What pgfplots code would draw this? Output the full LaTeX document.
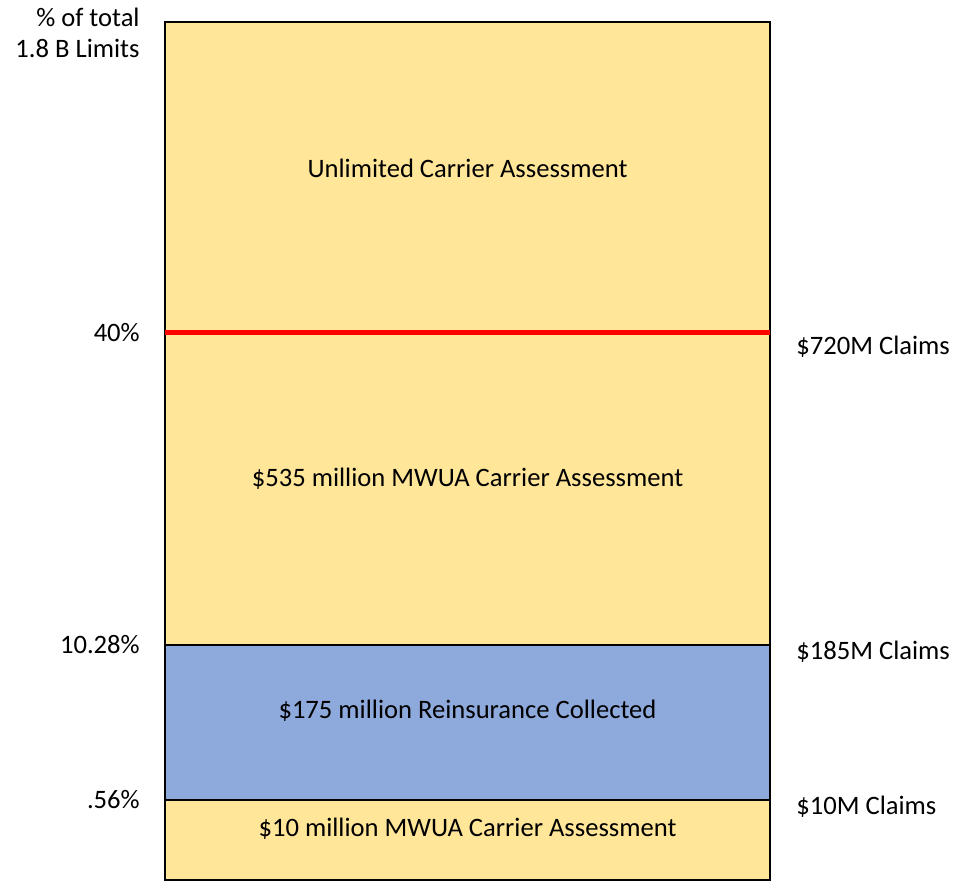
\documentclass[border=0pt]{standalone}
\usepackage{pgfplots}
\pgfplotsset{compat=1.18}
\usepackage{fontspec}
\setmainfont{Carlito}
\definecolor{gold}{HTML}{FFE699}
\definecolor{lblue}{HTML}{8EA9DB}
\begin{document}
\fontsize{13.3}{15.5}\selectfont
\begin{tikzpicture}
\pgfplotsset{base/.style={
  width=302.5pt, height=429pt, scale only axis,
  xmin=-0.5, xmax=0.5, ymin=0, ymax=858,
  axis line style={draw=none},
  xtick=\empty, major tick length=0pt,
  clip=false}}
\begin{axis}[base,
  ybar stacked, bar width=302.5pt,
  ytick={80,235,547},
  yticklabels={.56\%,10.28\%,40\%},
  yticklabel style={font=\fontsize{13.3}{15.5}\selectfont, xshift=-8pt},
  /pgf/number format/assume math mode=true,
]
\addplot[fill=gold, draw=black, line width=1.45pt] coordinates {(0,80)};
\addplot[fill=lblue, draw=black, line width=1.45pt] coordinates {(0,155)};
\addplot[fill=gold, draw=black, line width=1.45pt] coordinates {(0,312)};
\addplot[fill=gold, draw=black, line width=1.45pt] coordinates {(0,311)};
\end{axis}
\begin{axis}[base, ytick=\empty]
\addplot[red, line width=2.5pt, sharp plot] coordinates {(-0.5,547) (0.5,547)};
\node at (axis cs:0,712) {Unlimited Carrier Assessment};
\node at (axis cs:0,401) {\$535 million MWUA Carrier Assessment};
\node at (axis cs:0,169) {\$175 million Reinsurance Collected};
\node at (axis cs:0,51) {\$10 million MWUA Carrier Assessment};
\node[anchor=west, inner sep=0pt] at ([xshift=13pt]axis cs:0.5,533) {\$720M Claims};
\node[anchor=west, inner sep=0pt] at ([xshift=13pt]axis cs:0.5,228) {\$185M Claims};
\node[anchor=west, inner sep=0pt] at ([xshift=13pt]axis cs:0.5,73) {\$10M Claims};
\node[anchor=east, inner sep=0pt] at ([xshift=-12.5pt]axis cs:-0.5,863) {\% of total};
\node[anchor=east, inner sep=0pt] at ([xshift=-12.5pt]axis cs:-0.5,832) {1.8 B Limits};
\end{axis}
\pgfresetboundingbox
\useasboundingbox ([xshift=-82.5pt]current axis.south west) rectangle ([xshift=97.5pt,yshift=11pt]current axis.north east);
\end{tikzpicture}
\end{document}
